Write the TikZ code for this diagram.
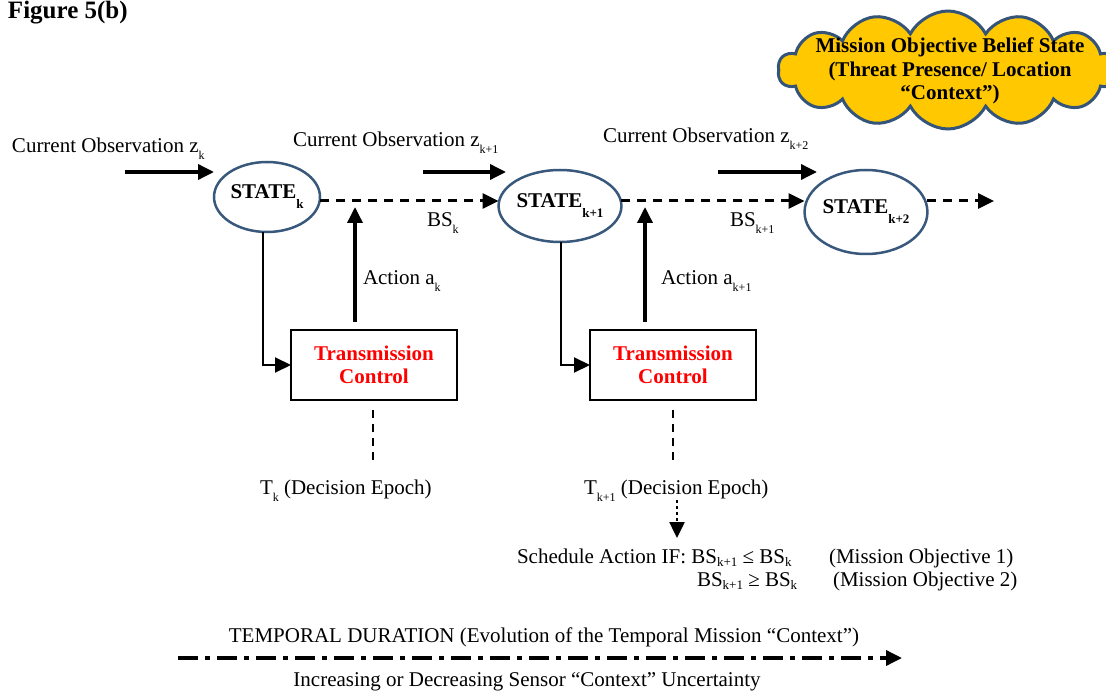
\documentclass[tikz,border=0pt]{standalone}
\usepackage{fontspec}
\setmainfont{Liberation Serif}
\usetikzlibrary{shapes.geometric,shapes.symbols,arrows.meta,calc}

\definecolor{stateblue}{RGB}{56,88,124}
\definecolor{cloudfill}{RGB}{255,200,0}
\definecolor{cloudline}{RGB}{52,84,122}

% lowered subscripts in the style of the original typesetting
\newcommand\lsub[1]{\raisebox{-7pt}{\fontsize{12}{12}\selectfont #1}}
\newcommand\bsub[1]{\raisebox{-10pt}{\fontsize{13}{13}\selectfont\bfseries #1}}
\newcommand\ssub[1]{\raisebox{-3pt}{\fontsize{13}{13}\selectfont #1}}

\begin{document}
\begin{tikzpicture}[x=1pt,y=-1pt,
  every node/.style={font=\fontsize{21}{24}\selectfont, inner sep=0pt, outer sep=0pt},
  txt/.style={anchor=base west},
  statenode/.style={ellipse, draw=stateblue, line width=2.5pt, fill=white,
    font=\fontsize{21}{24}\selectfont\bfseries},
  ctrlbox/.style={draw, line width=2pt, minimum width=166pt, minimum height=70pt,
    align=center, text=red, font=\fontsize{21}{23}\selectfont\bfseries},
  tip/.style={-{Triangle[length=16pt,width=15pt]}},
  obsarrow/.style={tip, line width=3.5pt},
  bsarrow/.style={tip, line width=3pt, dash pattern=on 9pt off 7pt},
  feed/.style={tip, line width=2pt},
  epoch/.style={line width=2pt, dash pattern=on 8pt off 6pt},
  timeline/.style={tip, line width=3.5pt, dash pattern=on 20pt off 7pt on 5pt off 7pt},
]
\useasboundingbox (0,0) rectangle (1106,695);

% title
\node[txt, font=\fontsize{25}{28}\selectfont\bfseries] (title) at (8,19) {Figure 5(b)};

% mission objective cloud and its caption
\node[cloud, cloud puffs=14, cloud puff arc=125, cloud ignores aspect,
      minimum width=340pt, minimum height=118pt, fill=cloudfill, draw=cloudline,
      line width=3pt] (cloud) at (948,70) {};
\node[align=center, font=\fontsize{21}{23.5}\selectfont\bfseries] (cloudtext) at (950,71)
  {Mission Objective Belief State\\(Threat Presence/ Location\\“Context”)};

% belief states
\node[statenode, minimum width=106pt, minimum height=70pt] (sk)  at (267,197) {STATE\bsub{k}};
\node[statenode, minimum width=114pt, minimum height=72pt] (sk1) at (560,206) {STATE\bsub{k+1}};
\node[statenode, minimum width=114pt, minimum height=84pt] (sk2) at (866,212) {STATE\bsub{k+2}};

% transmission control blocks
\node[ctrlbox] (tc1) at (374,365) {Transmission\\Control};
\node[ctrlbox] (tc2) at (673,365) {Transmission\\Control};

% observations
\node[txt] (obs0) at (12,153)  {Current Observation z\lsub{k}};
\node[txt] (obs1) at (293,147) {Current Observation z\lsub{k+1}};
\node[txt] (obs2) at (603,143) {Current Observation z\lsub{k+2}};
\coordinate (o0a) at (125,172); \coordinate (o0b) at (214,172);
\coordinate (o1a) at (423,172); \coordinate (o1b) at (506,172);
\coordinate (o2a) at (718,172); \coordinate (o2b) at (817,172);
\draw[obsarrow] (o0a) -- (o0b);
\draw[obsarrow] (o1a) -- (o1b);
\draw[obsarrow] (o2a) -- (o2b);

% belief state transitions along one level
\coordinate (bsline) at (0,201);
\coordinate (bsend) at (994,201);
\draw[bsarrow] (sk.east |- bsline) -- (sk1.west |- bsline);
\draw[bsarrow] (sk1.east |- bsline) -- (sk2.west |- bsline);
\draw[bsarrow] (sk2.east |- bsline) -- (bsend);
\node[txt] (bs0) at (427,227) {BS\lsub{k}};
\node[txt] (bs1) at (730,227) {BS\lsub{k+1}};

% state to transmission control
\draw[feed] (sk.south -| 263,0) |- (tc1.west);
\draw[feed] (sk1.south -| 561,0) |- (tc2.west);

% actions
\coordinate (a0a) at (355,322); \coordinate (a0b) at (355,207);
\coordinate (a1a) at (645,322); \coordinate (a1b) at (645,207);
\draw[obsarrow] (a0a) -- (a0b);
\draw[obsarrow] (a1a) -- (a1b);
\node[txt] (act0) at (363,284) {Action a\lsub{k}};
\node[txt] (act1) at (661,284) {Action a\lsub{k+1}};

% decision epochs
\coordinate (e0a) at (373,410); \coordinate (e0b) at (373,462);
\coordinate (e1a) at (673,410); \coordinate (e1b) at (673,462);
\draw[epoch] (e0a) -- (e0b);
\draw[epoch] (e1a) -- (e1b);
\node[txt] (ep0) at (260,494) {T\lsub{k} (Decision Epoch)};
\node[txt] (ep1) at (584,494) {T\lsub{k+1} (Decision Epoch)};

% scheduling rule
\coordinate (sa) at (677,500); \coordinate (sb) at (677,538);
\draw[tip, line width=2.5pt, dash pattern=on 3pt off 3pt] (sa) -- (sb);
\node[txt] (rule1) at (517,563) {Schedule Action IF: BS\ssub{k+1} ≤ BS\ssub{k}};
\node[txt] (obj1)  at (829,563) {(Mission Objective 1)};
\node[txt] (rule2) at (697,586) {BS\ssub{k+1} ≥ BS\ssub{k}};
\node[txt] (obj2)  at (833,586) {(Mission Objective 2)};

% temporal duration
\node[anchor=base] (temporal) at (544,642) {TEMPORAL DURATION (Evolution of the Temporal Mission “Context”)};
\coordinate (ta) at (178,658); \coordinate (tb) at (902,658);
\draw[timeline] (ta) -- (tb);
\node[anchor=base] (uncert) at (527,686) {Increasing or Decreasing Sensor “Context” Uncertainty};
\end{tikzpicture}
\end{document}
